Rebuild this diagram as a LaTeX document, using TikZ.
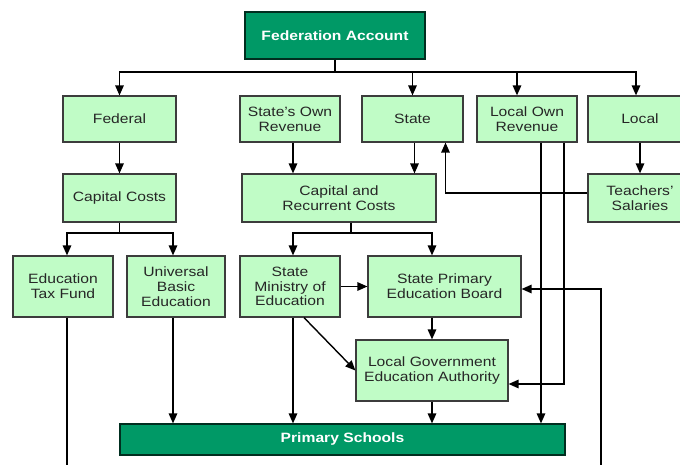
\documentclass[tikz,border=0pt]{standalone}
\usepackage{fontspec}
\setmainfont[FakeStretch=1.16]{Liberation Sans}
\usetikzlibrary{arrows.meta}
\definecolor{leafgreen}{RGB}{192,252,198}
\definecolor{deepgreen}{RGB}{0,153,102}
\definecolor{edgegray}{RGB}{60,60,60}

\begin{document}
\begin{tikzpicture}[x=1pt, y=-1pt, semithick, >={Triangle[length=10pt,width=8.5pt]},
            lightbox/.style ={rectangle, fill=leafgreen, draw=edgegray, line width=1.2pt,
            text=black!85, align=center, inner sep=0pt, font=\fontsize{13.5}{14.8}\selectfont},
            darkbox/.style ={rectangle, fill=deepgreen, draw=black!70!deepgreen, line width=1.2pt,
            text=white, align=center, inner sep=0pt, font=\fontsize{13.5}{14.8}\selectfont\bfseries},
            flow/.style ={line width=1.4pt, black}]

        \useasboundingbox (0,0) rectangle (680,465);
        \clip (0,0) rectangle (680,465);

        %\node [estilo] (nombre) at (x, y) {texto};

        \node[darkbox, minimum width=180, minimum height=47] (fedacc) at (335, 35.5) {Federation Account};

        \node[lightbox, minimum width=113, minimum height=46] (federal) at (119.5, 119) {Federal};
        \node[lightbox, minimum width=100, minimum height=46] (sown) at (290, 119) {State's Own\\Revenue};
        \node[lightbox, minimum width=101, minimum height=46] (state) at (412.5, 119) {State};
        \node[lightbox, minimum width=100, minimum height=46] (lown) at (527, 119) {Local Own\\Revenue};
        \node[lightbox, minimum width=104, minimum height=46] (local) at (640, 119) {Local};

        \node[lightbox, minimum width=113, minimum height=48] (capcost) at (119.5, 198) {Capital Costs};
        \node[lightbox, minimum width=194, minimum height=48] (carc) at (339, 198) {Capital and\\Recurrent Costs};
        \node[lightbox, minimum width=104, minimum height=48] (teach) at (640, 198) {Teachers'\\Salaries};

        \node[lightbox, minimum width=100, minimum height=61] (etf) at (63, 286.5) {Education\\Tax Fund};
        \node[lightbox, minimum width=98, minimum height=61] (ube) at (176, 286.5) {Universal\\Basic\\Education};
        \node[lightbox, minimum width=100, minimum height=61] (sme) at (290, 286.5) {State\\Ministry of\\Education};
        \node[lightbox, minimum width=153, minimum height=61] (speb) at (444.5, 286.5) {State Primary\\Education Board};

        \node[lightbox, minimum width=152, minimum height=61] (lgea) at (432, 370.5) {Local Government\\Education Authority};

        \node[darkbox, minimum width=445, minimum height=31] (ps) at (342.5, 439.5) {Primary Schools};

        \coordinate (bus) at (335, 72);
        \coordinate (ccsplit) at (119.5, 233);
        \coordinate (carcsplit) at (351, 233);
        \coordinate (etfend) at (67, 470);
        \coordinate (spebfeed) at (601, 470);

        % reparto de la cuenta federal
        \draw[flow] (fedacc) -- (bus);
        \draw[flow, ->] (bus) -| (federal);
        \draw[flow, ->] (bus) -| (state);
        \draw[flow, ->] (bus) -| ([xshift=-10]lown.north);
        \draw[flow, ->] (bus) -| ([xshift=-4]local.north);

        \draw[flow, ->] (federal) -- (capcost);
        \draw[flow, ->] ([xshift=3]sown.south) -- ([xshift=3]sown.south |- carc.north);
        \draw[flow, ->] ([xshift=2]state.south) -- ([xshift=2]state.south |- carc.north);
        \draw[flow, ->] (local) -- (teach);
        \draw[flow, ->] ([yshift=5]teach.west) -| ([xshift=33]state.south);

        \draw[flow] (capcost) -- (ccsplit);
        \draw[flow, ->] (ccsplit) -| ([xshift=4]etf.north);
        \draw[flow, ->] (ccsplit) -| ([xshift=-3]ube.north);

        \draw[flow] ([xshift=12]carc.south) -- (carcsplit);
        \draw[flow, ->] (carcsplit) -| ([xshift=3]sme.north);
        \draw[flow, ->] (carcsplit) -| (lgea |- speb.north);

        \draw[flow, ->] (sme) -- (speb);
        \draw[flow, ->] (lgea |- speb.south) -- (lgea);
        \draw[flow, ->] ([xshift=14]sme.south) -- (lgea.west);

        % hacia las escuelas
        \draw[flow, ->] ([xshift=-3]ube.south) -- ([xshift=-3]ube.south |- ps.north);
        \draw[flow, ->] ([xshift=3]sme.south) -- ([xshift=3]sme.south |- ps.north);
        \draw[flow, ->] (lgea) -- (lgea |- ps.north);
        \draw[flow, ->] ([xshift=14]lown.south) -- ([xshift=14]lown.south |- ps.north);
        \draw[flow, ->] ([xshift=37]lown.south) |- ([yshift=-13.5]lgea.east);

        \draw[flow] ([xshift=4]etf.south) -- (etfend);
        \draw[flow, ->] (spebfeed) |- ([yshift=-2.5]speb.east);

    \end{tikzpicture}
\end{document}
